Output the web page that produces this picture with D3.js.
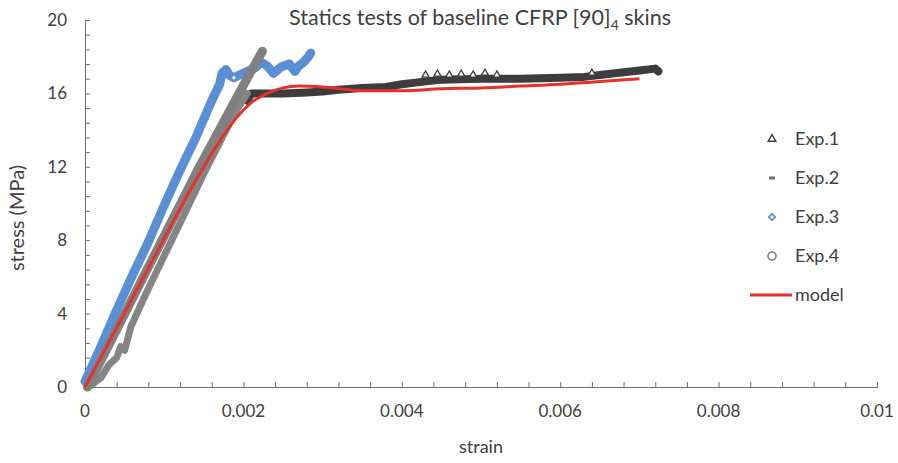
<!DOCTYPE html>
<html>
<head>
<meta charset="utf-8">
<script src="https://cdn.jsdelivr.net/npm/d3@7"></script>
<style>
    body { margin: 0; background: #fff; }
    svg text { font-family: Lato, "Open Sans", sans-serif; fill: #404040; }
</style>
</head>
<body>
<svg id="drawing_region"></svg>
<script>
// [strain, stress (MPa)]
const exp1 = [
    [0.00205, 15.6], [0.0021, 16.0], [0.0025, 16.0], [0.0028, 16.05], [0.003, 16.1],
    [0.0032, 16.2], [0.0035, 16.3], [0.0038, 16.35], [0.004, 16.5], [0.0042, 16.6],
    [0.0045, 16.75], [0.005, 16.8], [0.0055, 16.8], [0.006, 16.85], [0.0063, 16.9],
    [0.0065, 17.0], [0.0068, 17.15], [0.007, 17.25], [0.0072, 17.35], [0.00724, 17.2]
];
const exp1Peaks = [
    [0.0043, 17.0], [0.00445, 17.05], [0.0046, 17.0], [0.00475, 17.05], [0.0049, 17.0],
    [0.00505, 17.1], [0.0052, 17.0], [0.0064, 17.1]
];
const exp2 = [
    [0.00005, 0], [0.0002, 0.5], [0.0003, 1.2], [0.0004, 1.6], [0.00045, 2.2], [0.0005, 2.0],
    [0.00058, 3.3], [0.00076, 5.0], [0.00095, 6.7], [0.00114, 8.4], [0.00133, 10.1],
    [0.00152, 11.8], [0.00171, 13.4], [0.0019, 15.0], [0.00205, 16.0]
];
const exp3 = [
    [0, 0.3], [0.0002, 2.2], [0.0004, 4.2], [0.0006, 6.1], [0.0008, 7.9], [0.001, 9.9],
    [0.0012, 11.8], [0.0014, 13.6], [0.0015, 14.6], [0.0016, 15.6], [0.0017, 16.5],
    [0.00173, 17.1], [0.00178, 17.3], [0.00182, 17.0], [0.00188, 16.85], [0.00195, 17.0],
    [0.00205, 17.2], [0.00215, 17.4], [0.00222, 17.7], [0.0023, 17.5], [0.00238, 17.1],
    [0.00248, 17.45], [0.00258, 17.6], [0.00265, 17.2], [0.0027, 17.5], [0.00276, 17.7],
    [0.00282, 18.0], [0.00285, 18.2]
];
const exp3Open = [[0.00188, 16.85]];
const exp4 = [
    [0.00003, 0], [0.00022, 1.6], [0.00042, 3.3], [0.00062, 5.0], [0.00082, 6.7],
    [0.00102, 8.4], [0.00122, 10.1], [0.00142, 11.8], [0.00162, 13.4], [0.00182, 15.0],
    [0.00202, 16.6], [0.0022, 18.0], [0.00224, 18.3]
];
const model = [
    [0, 0], [0.0005, 4.05], [0.001, 8.1], [0.0013, 10.5], [0.0015, 12.0], [0.0017, 13.4],
    [0.0019, 14.6], [0.0021, 15.5], [0.0023, 16.0], [0.0025, 16.3], [0.0027, 16.4],
    [0.003, 16.35], [0.0035, 16.15], [0.004, 16.15], [0.0045, 16.25], [0.005, 16.3],
    [0.0055, 16.4], [0.006, 16.5], [0.0065, 16.65], [0.007, 16.8]
];

const strainTicks = [0, 0.002, 0.004, 0.006, 0.008, 0.01];
const stressTicks = [0, 4, 8, 12, 16, 20];
const legendNames = ['Exp.1', 'Exp.2', 'Exp.3', 'Exp.4', 'model'];

class StressStrainChart {

    constructor( config ) {
        this.config = config;
        this.init();
    }

    init() {
        let self = this;

        self.svg = d3.select( self.config.parent )
            .attr('width', self.config.width)
            .attr('height', self.config.height);

        const m = self.config.margin;
        self.xscale = d3.scaleLinear()
            .domain( [0, 0.01] )
            .range( [m.left, self.config.width - m.right] );
        self.yscale = d3.scaleLinear()
            .domain( [0, 20] )
            .range( [self.config.height - m.bottom, m.top] );

        self.line = d3.line()
            .x( d => self.xscale( d[0] ) )
            .y( d => self.yscale( d[1] ) );
    }

    render() {
        let self = this;
        const m = self.config.margin;
        const bottom = self.config.height - m.bottom;

        // minor ticks (inside)
        self.svg.append('g')
            .attr('transform', `translate(0, ${bottom})`)
            .call( d3.axisBottom( self.xscale )
                .tickValues( d3.range(0, 26).map( i => i * 0.0004 ) )
                .tickSize( -5 ).tickFormat('') )
            .call( g => g.selectAll('line, path').attr('stroke', '#6e6e6e') );

        self.svg.append('g')
            .attr('transform', `translate(${m.left}, 0)`)
            .call( d3.axisLeft( self.yscale )
                .tickValues( d3.range(0, 26).map( i => i * 0.8 ) )
                .tickSize( -5 ).tickFormat('') )
            .call( g => g.selectAll('line, path').attr('stroke', '#6e6e6e') );

        // labels
        self.svg.append('g')
            .selectAll('text')
            .data( strainTicks )
            .join('text')
            .attr('x', d => self.xscale( d ))
            .attr('y', bottom + 30)
            .attr('text-anchor', 'middle')
            .attr('font-size', 17)
            .text( d => String(d) );

        self.svg.append('g')
            .selectAll('text')
            .data( stressTicks )
            .join('text')
            .attr('x', m.left - 18)
            .attr('y', d => self.yscale( d ) + 6)
            .attr('text-anchor', 'end')
            .attr('font-size', 17)
            .text( d => d );

        // series
        const band = ( data, color, width ) => self.svg.append('path')
            .attr('d', self.line( data ))
            .attr('fill', 'none')
            .attr('stroke', color)
            .attr('stroke-width', width)
            .attr('stroke-linejoin', 'round')
            .attr('stroke-linecap', 'round');

        band( exp1, '#3d3d3d', 8 );
        self.svg.append('g')
            .selectAll('path')
            .data( exp1Peaks )
            .join('path')
            .attr('transform', d => `translate(${self.xscale(d[0])}, ${self.yscale(d[1])})`)
            .attr('d', d3.symbol( d3.symbolTriangle, 22 ))
            .attr('fill', '#fff')
            .attr('stroke', '#3d3d3d')
            .attr('stroke-width', 1.3);

        band( exp2, '#858585', 7 );
        band( exp3, '#5a8fd6', 9 );
        self.svg.append('g')
            .selectAll('path')
            .data( exp3Open )
            .join('path')
            .attr('transform', d => `translate(${self.xscale(d[0])}, ${self.yscale(d[1])}) rotate(45)`)
            .attr('d', d3.symbol( d3.symbolSquare, 18 ))
            .attr('fill', '#fff')
            .attr('stroke', '#5a8fd6')
            .attr('stroke-width', 1.5);
        band( exp4, '#808080', 9 );

        self.svg.append('path')
            .attr('d', self.line.curve( d3.curveMonotoneX )( model ))
            .attr('fill', 'none')
            .attr('stroke', '#e8302a')
            .attr('stroke-width', 3);

        // titles
        const title = self.svg.append('text')
            .attr('x', 480)
            .attr('y', 25)
            .attr('text-anchor', 'middle')
            .attr('font-size', 21.5)
            .attr('fill', '#262626');
        title.append('tspan').text('Statics tests of baseline CFRP [90]');
        title.append('tspan').attr('font-size', 14).attr('dy', 5).text('4');
        title.append('tspan').attr('dy', -5).text(' skins');

        self.svg.append('text')
            .attr('x', (m.left + self.config.width - m.right) / 2)
            .attr('y', 453)
            .attr('text-anchor', 'middle')
            .attr('font-size', 18)
            .text('strain');

        self.svg.append('text')
            .attr('transform', 'translate(24, 218) rotate(-90)')
            .attr('text-anchor', 'middle')
            .attr('font-size', 20)
            .text('stress (MPa)');

        // legend
        const legend = self.svg.append('g')
            .selectAll('g')
            .data( legendNames )
            .join('g')
            .attr('transform', (d, i) => `translate(772, ${139 + i * 39})`);

        legend.append('text')
            .attr('x', 23)
            .attr('y', 6)
            .attr('font-size', 18)
            .text( d => d );

        legend.filter( d => d === 'Exp.1' ).append('path')
            .attr('d', d3.symbol( d3.symbolTriangle, 26 ))
            .attr('fill', '#fff').attr('stroke', '#3d3d3d').attr('stroke-width', 1.4);
        legend.filter( d => d === 'Exp.2' ).append('rect')
            .attr('x', -3).attr('y', -1.5).attr('width', 6).attr('height', 3)
            .attr('fill', '#707070');
        legend.filter( d => d === 'Exp.3' ).append('path')
            .attr('transform', 'rotate(45)')
            .attr('d', d3.symbol( d3.symbolSquare, 20 ))
            .attr('fill', '#fff').attr('stroke', '#5a8fd6').attr('stroke-width', 1.8);
        legend.filter( d => d === 'Exp.4' ).append('circle')
            .attr('r', 4)
            .attr('fill', '#fff').attr('stroke', '#808080').attr('stroke-width', 1.6);
        legend.filter( d => d === 'model' ).append('line')
            .attr('x1', -22).attr('x2', 20)
            .attr('stroke', '#e8302a').attr('stroke-width', 3);
    }
}

const chart = new StressStrainChart({
    parent: '#drawing_region',
    width: 898,
    height: 463,
    margin: {top: 20, right: 21, bottom: 76, left: 85}
});
chart.render();
</script>
</body>
</html>
